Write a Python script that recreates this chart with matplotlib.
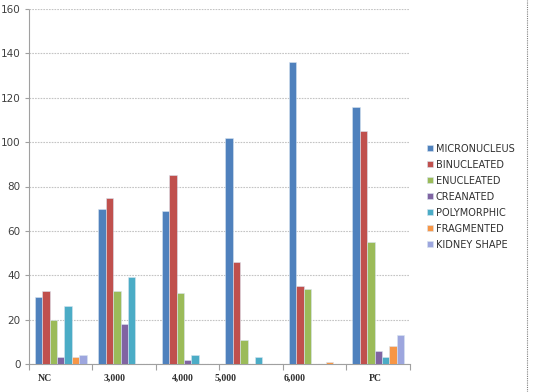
import matplotlib.pyplot as plt
import numpy as np

# ---------------- data ----------------
groups = ['NC', '3,000', '4,000', '5,000', '6,000', 'PC']
series = ['MICRONUCLEUS', 'BINUCLEATED', 'ENUCLEATED', 'CREANATED',
          'POLYMORPHIC', 'FRAGMENTED', 'KIDNEY SHAPE']
micronucleus = [30, 70, 69, 102, 136, 116]
binucleated = [33, 75, 85, 46, 35, 105]
enucleated = [20, 33, 32, 11, 34, 55]
creanated = [3, 18, 2, 0, 0, 6]
polymorphic = [26, 39, 4, 3, 0, 3]
fragmented = [3, 0, 0, 0, 1, 8]
kidney_shape = [4, 0, 0, 0, 0, 13]

values = [micronucleus, binucleated, enucleated, creanated,
          polymorphic, fragmented, kidney_shape]
colors = ['#4F81BD', '#C0504D', '#9BBB59', '#8064A2',
          '#4BACC6', '#F79646', '#9DA6DE']

# ---------------- figure ----------------
fig = plt.figure(figsize=(5.33, 3.92), dpi=100)
ax = fig.add_axes([29/533, 1-364/392, (410-29)/533, (364-9)/392])

x = np.arange(len(groups))
w = 0.118
for i, (vals, c) in enumerate(zip(values, colors)):
    ax.bar(x + (i - 3) * w, vals, width=w, color=c, edgecolor='#d8e4f0',
           linewidth=0.4, label=series[i], zorder=3)

ax.set_xlim(-0.5, 5.5)
ax.set_ylim(0, 160)
ax.set_yticks(np.arange(0, 161, 20))
ax.yaxis.grid(True, color='#c4c4c4', linestyle=(0, (1.5, 1)), linewidth=0.8)
ax.tick_params(axis='y', labelsize=7.5, labelcolor='#404040', length=3,
               color='#a0a0a0', pad=3)
for lab in ax.get_yticklabels():
    lab.set_family('DejaVu Sans')

# category boundaries as tick marks, labels placed as text
ax.set_xticks(np.arange(-0.5, 5.6, 1.0))
ax.set_xticklabels([])
ax.tick_params(axis='x', length=4, color='#a0a0a0')
label_x = [-0.25, 0.85, 1.93, 2.60, 3.69, 4.95]
for lx, g in zip(label_x, groups):
    ax.text(lx, -4.5, g, ha='center', va='top', fontsize=7,
            family='Liberation Serif', fontweight='bold', color='#303030')

for s in ['top', 'right']:
    ax.spines[s].set_visible(False)
ax.spines['left'].set_color('#a0a0a0')
ax.spines['left'].set_linestyle((0, (1, 1)))
ax.spines['bottom'].set_color('#a0a0a0')
ax.spines['bottom'].set_linestyle((0, (2, 1)))

leg = ax.legend(loc='upper left', bbox_to_anchor=(1.035, 0.632), frameon=False,
                fontsize=7, handlelength=0.6, handleheight=0.6,
                handletextpad=0.3, labelspacing=0.62, borderaxespad=0)
for t in leg.get_texts():
    t.set_color('#303030')

# right border line of the chart area
fig.add_artist(plt.Line2D([527/533, 527/533], [0, 1], color='#808080',
                          linestyle=(0, (1, 1)), linewidth=0.8))

fig.savefig('out.png', dpi=100)
